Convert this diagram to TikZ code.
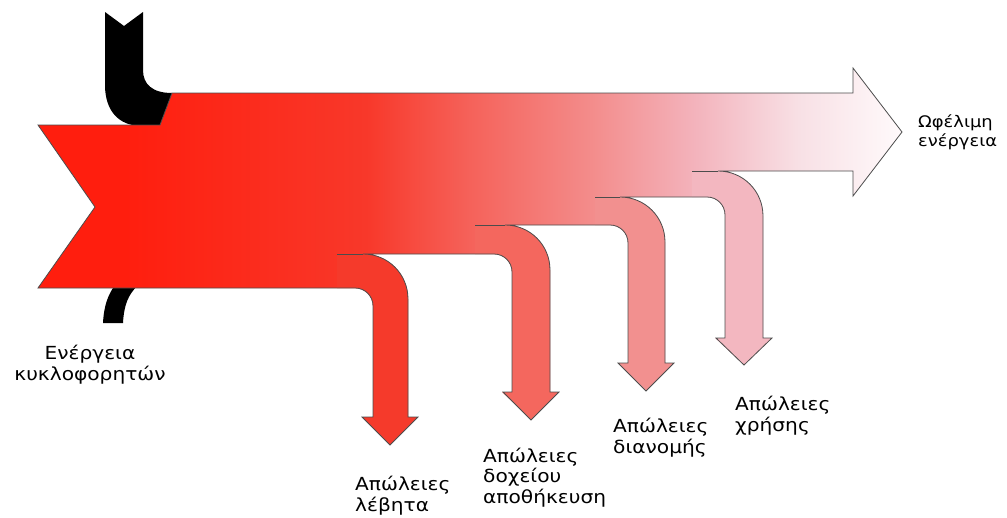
\documentclass[tikz,border=0pt]{standalone}
\usepackage{fontspec}
\newfontfamily\lblfont[FakeStretch=1.12]{DejaVu Sans}
\usetikzlibrary{positioning}
\definecolor{red0}{HTML}{FF1E0E}
\definecolor{fadeA}{HTML}{F8382A}
\definecolor{fadeB}{HTML}{F5625A}
\definecolor{fadeC}{HTML}{F38C8B}
\definecolor{fadeD}{HTML}{F3B3BC}
\definecolor{fadeE}{HTML}{F8E0E5}
\definecolor{fadeF}{HTML}{FFFAFB}
\definecolor{lossA}{HTML}{F53A2B}
\definecolor{lossB}{HTML}{F4675E}
\definecolor{lossC}{HTML}{F2908F}
\definecolor{lossD}{HTML}{F3B7C0}
\pgfdeclarehorizontalshading{bandfade}{100bp}{color(0bp)=(red0); color(30bp)=(red0);
  color(44bp)=(fadeA); color(50bp)=(fadeB); color(57bp)=(fadeC); color(63bp)=(fadeD);
  color(69bp)=(fadeE); color(75bp)=(fadeF); color(100bp)=(fadeF)}

\begin{document}
\begin{tikzpicture}[x=1pt,y=-1pt,
outline/.style = {draw=black!70, line width=0.8pt},
lbl/.style = {font=\lblfont\fontsize{18}{20.5}\selectfont, inner sep=0pt, align=left, anchor=base west},
small/.style = {font=\lblfont\fontsize{16}{19}\selectfont}]
\useasboundingbox (0,0) rectangle (1007,517);
\fill[black] (105,12) -- (124,26) -- (143,12) -- (143,70) .. controls (143,84) and (152,93) .. (172,93)
    -- (165,126) -- (142,126) .. controls (118,126) and (105,110) .. (105,85) -- cycle;
\fill[black] (103,323) -- (123,323) .. controls (124,305) and (128,295) .. (138,285)
    -- (115,285) .. controls (108,295) and (104,305) .. (103,323) -- cycle;
\shade[shading=bandfade, save path=\bandpath] (38,125) -- (160,125) -- (172,93) -- (853,93) -- (853,68)
    -- (902,132) -- (853,196) -- (853,171)
    -- (718,171) .. controls (743,171) and (763,191) .. (763,216) -- (763,338) -- (772,338) -- (744,365)
    -- (716,338) -- (725,338) -- (725,215) .. controls (725,205) and (717,197) .. (707,197)
    -- (620,197) .. controls (645,197) and (665,217) .. (665,242) -- (665,363) -- (674,363) -- (646,391)
    -- (618,363) -- (628,363) -- (628,243) .. controls (628,233) and (620,225) .. (610,225)
    -- (505,225) .. controls (530,225) and (550,245) .. (550,270) -- (550,392) -- (559,392) -- (531,420)
    -- (503,392) -- (512,392) -- (512,272) .. controls (512,262) and (504,254) .. (494,254)
    -- (363,254) .. controls (388,254) and (408,274) .. (408,299) -- (408,417) -- (418,417) -- (390,445)
    -- (362,417) -- (373,417) -- (373,306) .. controls (373,296) and (365,288) .. (355,288)
    -- (38,288) -- (95,207) -- cycle;
\foreach \xs/\yt/\yb/\xi/\xo/\yw/\col in {337/254/288/373/408/417/lossA, 475/225/254/512/550/392/lossB,
    595/197/225/628/665/363/lossC, 692/171/197/725/763/338/lossD}{
  \fill[\col] (\xs,\yt) -- (\xo-45,\yt) .. controls (\xo-20,\yt) and (\xo,\yt+20) .. (\xo,\yt+45)
      -- (\xo,\yw) -- ({(\xi+\xo)/2},\yw) -- ({(\xi+\xo)/2},\yw+27) -- (\xi,\yw)
      -- (\xi,\yb+18) .. controls (\xi,\yb+8) and (\xi-8,\yb) .. (\xi-18,\yb) -- (\xs,\yb) -- cycle;
  \fill[\col] (\xi-1,\yw) -- (\xo+1,\yw) -- (\xo+9,\yw) -- ({(\xi+\xo)/2},\yw+27) -- (\xi-10,\yw) -- cycle;
}
\draw[outline, use path=\bandpath];
\foreach \xs/\yt/\xo in {337/254/408, 475/225/550, 595/197/665, 692/171/763}
  \draw[outline] (\xs,\yt) -- (\xo-45,\yt);
\node[lbl, small] (useful) at (918,146) {Ωφέλιμη\\ενέργεια};
\node[lbl, align=center, anchor=base] (pumps) at (90,380) {Ενέργεια\\κυκλοφορητών};
\node[lbl] (boiler) at (355,511) {Απώλειες\\λέβητα};
\node[lbl] (tank) at (483,503) {Απώλειες\\δοχείου\\αποθήκευση};
\node[lbl] (distrib) at (613,453) {Απώλειες\\διανομής};
\node[lbl] (usage) at (735,431) {Απώλειες\\χρήσης};
\end{tikzpicture}
\end{document}
